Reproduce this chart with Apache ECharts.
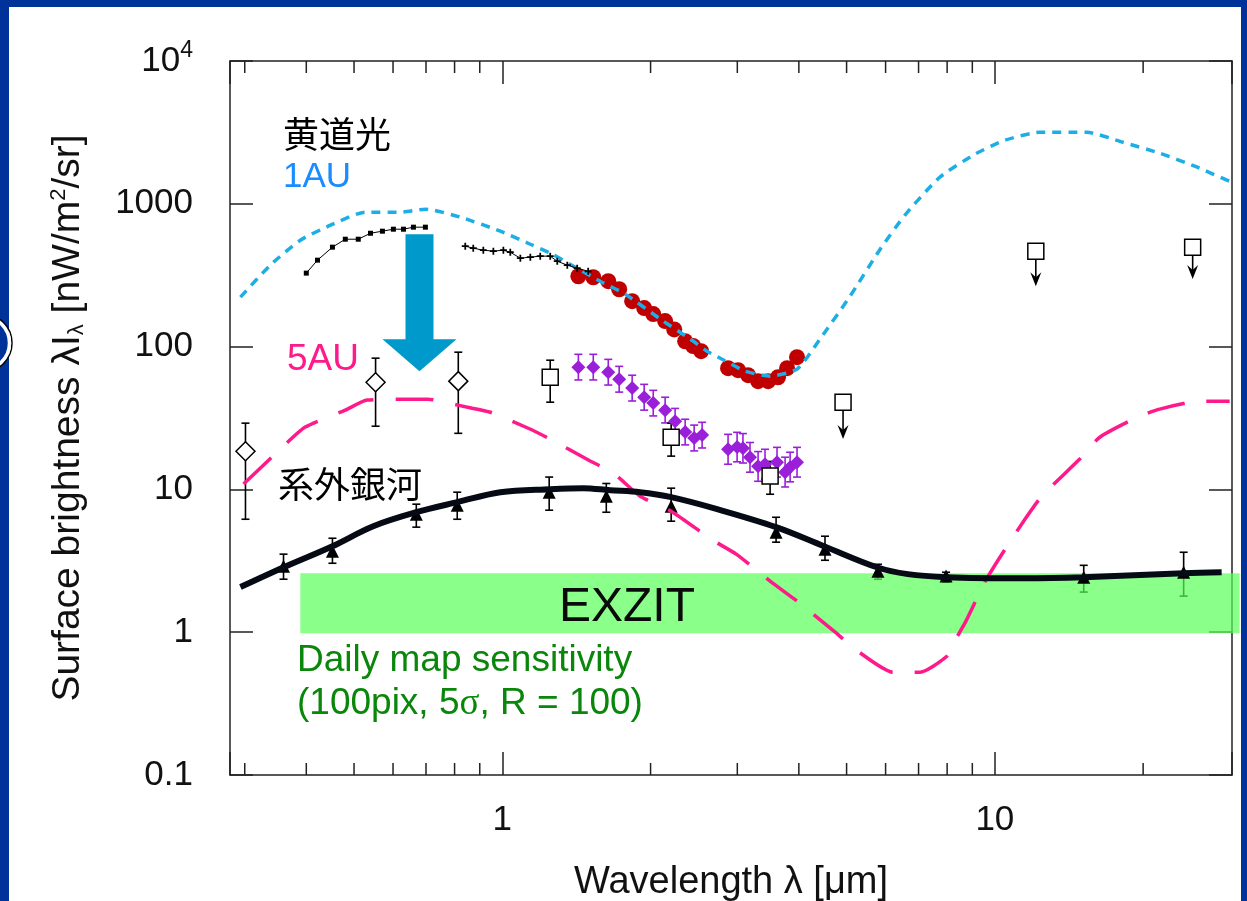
<!DOCTYPE html>
<html>
<head>
<meta charset="utf-8">
<title>Surface brightness</title>
<script src="https://cdn.jsdelivr.net/npm/echarts@6.0.0/dist/echarts.min.js"></script>
<style>
html,body{margin:0;padding:0;background:#fff;}
#main{width:1247px;height:901px;}
</style>
</head>
<body>
<div id="main"></div>
<script>
// axis range
var X_MIN = 0.28, X_MAX = 30.3;
var Y_MIN = 0.1, Y_MAX = 10000;
var xMinorTicks = [0.3, 0.4, 0.5, 0.6, 0.7, 0.8, 0.9, 2, 3, 4, 5, 6, 7, 8, 9, 20];

// 黄道光 1AU model (blue dotted)
var zl1auX = [0.294,0.338,0.389,0.448,0.527,0.621,0.698,0.822,0.991,1.140,1.263,1.406,1.580,1.776,2.092,2.406,2.605,2.795,3.111,3.497,3.966,4.416,5.08,5.85,6.57,7.73,9.11,10.48,12.34,15.37,18.18,21.61,25.45,30.25];
var zl1auY = [222,372,556,708,874,874,917,806,643,521,444,360,287,233,156,113,92.9,81.6,67.3,62.1,69.5,113,225,481,834,1535,2224,2787,3170,3170,2700,2261,1833,1416];

// 5AU model (pink dashed)
var zl5auX = [0.2983,0.358,0.398,0.480,0.532,0.642,0.705,0.849,0.946,1.129,1.251,1.508,1.672,1.905,2.202,2.654,2.984,3.563,3.966,4.74,5.27,6.21,7.05,7.99,8.26,8.73,9.54,10.24,11.51,12.45,14.87,16.33,19.50,21.61,26.05,29.97];
var zl5auY = [10.9,19.8,27.3,35.9,42.2,42.8,42.8,37.6,34.7,26.8,22.5,15.8,13.2,8.96,7.03,4.48,3.52,2.17,1.65,1.0,0.736,0.525,0.525,0.679,0.851,1.19,2.24,3.35,6.18,8.96,16.3,23.2,32.1,36.5,41.5,41.5];

// zodiacal light measurements (small squares / crosses)
var zlSqX = [0.400,0.4215,0.452,0.480,0.510,0.540,0.571,0.601,0.630,0.660,0.698];
var zlSqY = [327,403,497,565,565,622,643,664,664,686,686];
var zlCrX = [0.841,0.873,0.915,0.959,1.005,1.038,1.088,1.140,1.194,1.251,1.293,1.355,1.419,1.494];
var zlCrY = [505,489,473,466,473,458,416,423,430,430,396,372,354,337];

// red circles
var redX = [1.427,1.530,1.641,1.727,1.835,1.941,2.025,2.141,2.234,2.351,2.440,2.533,2.873,3.011,3.155,3.306,3.464,3.629,3.786,3.966];
var redY = [311,306,287,252,208,186,169,151,132,109,101,92.9,70.6,68.4,63.1,57.3,57.3,61.0,70.6,84.3];

// purple diamonds with error bars
var purX  = [1.427,1.530,1.641,1.727,1.835,1.941,2.025,2.141,2.243,2.351,2.452,2.545,2.873,2.997,3.080,3.183,3.306,3.415,3.612,3.751,3.840,3.966];
var purY  = [71.8,71.8,66.2,59.1,51.2,44.2,40.2,35.9,30.0,25.2,22.9,24.0,19.1,19.8,19.4,16.8,14.5,15.0,15.5,13.2,14.3,15.5];
var purHi = [88.3,88.3,81.4,72.7,63.0,54.4,49.4,44.2,36.9,31.0,28.2,29.5,24.3,25.1,24.6,21.3,18.4,19.1,19.7,16.8,18.2,19.7];
var purLo = [58.4,58.4,53.8,48.0,41.6,35.9,32.7,29.2,24.4,20.5,18.6,19.5,15.0,15.6,15.3,13.2,11.4,11.8,12.2,10.4,11.3,12.2];

// open diamonds
var diaX  = [0.301,0.553,0.814];
var diaY  = [18.5,56.3,57.3];
var diaHi = [29.1,83.0,91.4];
var diaLo = [6.18,27.7,24.7];

// open squares
var sqX  = [1.251,2.202,3.497];
var sqY  = [61.0,23.2,12.4];
var sqHi = [80.3,29.1,15.7];
var sqLo = [40.8,17.1,9.25];

// upper limits
var ulX   = [4.918,12.11,25.21];
var ulY   = [40.8,466,497];
var ulTip = [22.5,265,297];

// 系外銀河 model (thick black)
var eblX = [0.294,0.360,0.452,0.547,0.669,0.810,0.991,1.251,1.460,1.656,1.905,2.202,2.730,3.596,4.50,5.76,6.66,7.96,11.40,15.15,24.17,28.87];
var eblY = [2.07,2.85,4.00,5.52,6.92,8.14,9.56,10.03,10.2,9.87,9.56,8.82,7.27,5.44,4.00,2.85,2.55,2.43,2.39,2.43,2.59,2.63];

// galaxy counts (triangles)
var triX  = [0.3596,0.452,0.669,0.810,1.245,1.626,2.202,3.596,4.52,5.79,7.96,15.15,24.17];
var triY  = [2.90,3.69,6.70,7.75,9.56,8.96,7.63,5.01,3.81,2.67,2.47,2.43,2.63];
var triHi = [3.52,4.55,7.88,9.56,12.2,11.0,10.2,6.38,4.70,2.99,2.63,2.94,3.63];
var triLo = [2.35,3.04,5.44,6.18,7.15,6.92,5.99,4.27,3.19,2.35,2.24,1.91,1.79];

// EXZIT band [x0, x1, y0, y1] and 5AU arrow [x, yTop, yTip]
var bandBox = [0.389, 31.4, 0.985, 2.59];
var arrowBox = [0.679, 612, 67.3];

var FONT = '"Liberation Sans", Arial, sans-serif';
var CJK = '"Noto Sans CJK JP", sans-serif';

function pairs(xs, ys){
    var out = [];
    for(var i=0;i<xs.length;i++){
        out.push([xs[i], ys[i]]);
    }
    return out;
}
function triples(xs, a, b){
    var out = [];
    for(var i=0;i<xs.length;i++){
        out.push([xs[i], a[i], b[i]]);
    }
    return out;
}

function renderErrBar(params, api){
    var x = api.value(0);
    var lo = api.coord([x, api.value(1)]);
    var hi = api.coord([x, api.value(2)]);
    var c = api.visual('color');
    var cap = 4;
    var st = {stroke: c, lineWidth: 1.6};
    return {
        type: 'group',
        children: [
            {type:'line', shape:{x1:lo[0], y1:lo[1], x2:hi[0], y2:hi[1]}, style: st},
            {type:'line', shape:{x1:lo[0]-cap, y1:lo[1], x2:lo[0]+cap, y2:lo[1]}, style: st},
            {type:'line', shape:{x1:hi[0]-cap, y1:hi[1], x2:hi[0]+cap, y2:hi[1]}, style: st}
        ]
    };
}

function renderUpperLimit(params, api){
    var x = api.value(0);
    var p = api.coord([x, api.value(1)]);
    var t = api.coord([x, api.value(2)]);
    return {
        type: 'group',
        children: [
            {type:'line', shape:{x1:p[0], y1:p[1], x2:t[0], y2:t[1]-5}, style:{stroke:'#000', lineWidth:1.6}},
            {type:'polygon', shape:{points:[[t[0]-5.5,t[1]-14],[t[0],t[1]-9],[t[0]+5.5,t[1]-14],[t[0],t[1]]]}, style:{fill:'#000'}}
        ]
    };
}

function renderBand(params, api){
    var p0 = api.coord([api.value(0), api.value(3)]);
    var p1 = api.coord([api.value(1), api.value(2)]);
    return {
        type: 'rect',
        shape: {x:p0[0], y:p0[1], width:p1[0]-p0[0], height:p1[1]-p0[1]},
        style: {fill:'rgba(88,255,88,0.7)'}
    };
}

function renderArrow(params, api){
    var x = api.value(0);
    var top = api.coord([x, api.value(1)]);
    var tip = api.coord([x, api.value(2)]);
    var sw = 14, hw = 37, hl = 32;
    var hy = tip[1] - hl;
    return {
        type: 'polygon',
        shape: {points: [
            [top[0]-sw, top[1]], [top[0]+sw, top[1]], [top[0]+sw, hy],
            [tip[0]+hw, hy], [tip[0], tip[1]], [tip[0]-hw, hy], [top[0]-sw, hy]
        ]},
        style: {fill:'#0099cc'}
    };
}

function renderMinorTick(params, api){
    var v = api.value(0);
    var b = api.coord([v, Y_MIN]);
    var t = api.coord([v, Y_MAX]);
    var len = 12;
    var st = {stroke:'#222', lineWidth:1.5};
    return {
        type: 'group',
        children: [
            {type:'line', shape:{x1:b[0], y1:b[1], x2:b[0], y2:b[1]-len}, style: st},
            {type:'line', shape:{x1:t[0], y1:t[1], x2:t[0], y2:t[1]+len}, style: st}
        ]
    };
}

function isDecade(v){
    var l = Math.log(v)/Math.LN10;
    return Math.abs(l - Math.round(l)) < 1e-6;
}

var axisLineStyle = {color:'#222', width:1.5};

var option = {
    backgroundColor: '#fff',
    animation: false,
    grid: {left:230, right:15, top:61, bottom:126, outerBoundsMode:'none', containLabel:false},
    xAxis: [
        {
            type: 'log', logBase: 10, min: X_MIN, max: X_MAX, position: 'bottom',
            axisLine: {lineStyle: axisLineStyle},
            axisTick: {inside: true, length: 23, lineStyle: axisLineStyle},
            splitLine: {show: false},
            axisLabel: {
                fontSize: 35, fontFamily: FONT, color: '#111', margin: 28,
                formatter: function(v){
                    if(!isDecade(v)) return '';
                    return String(Math.round(v));
                }
            },
            name: 'Wavelength λ [μm]', nameLocation: 'middle', nameGap: 89,
            nameTextStyle: {fontSize: 38, fontFamily: FONT, color: '#111', verticalAlign: 'top'}
        },
        {
            type: 'log', logBase: 10, min: X_MIN, max: X_MAX, position: 'top',
            axisLine: {lineStyle: axisLineStyle},
            axisTick: {inside: true, length: 23, lineStyle: axisLineStyle},
            splitLine: {show: false},
            axisLabel: {show: false}
        }
    ],
    yAxis: [
        {
            type: 'log', logBase: 10, min: Y_MIN, max: Y_MAX, position: 'left',
            axisLine: {lineStyle: axisLineStyle},
            axisTick: {inside: true, length: 23, lineStyle: axisLineStyle},
            splitLine: {show: false},
            axisLabel: {
                fontSize: 35, fontFamily: FONT, color: '#111', margin: 37,
                formatter: function(v){
                    var l = Math.round(Math.log(v)/Math.LN10);
                    if(l >= 4) return '10{sup|' + l + '}';
                    if(l < 0) return '0.1';
                    return String(Math.round(v));
                },
                rich: {
                    sup: {fontSize: 23, fontFamily: FONT, color: '#111', verticalAlign: 'top', padding: [0, 0, 20, 0]}
                }
            },
            name: 'Surface brightness λI{sub|λ} [nW/m{sup|2}/sr]',
            nameLocation: 'middle', nameGap: 142,
            nameTextStyle: {
                fontSize: 39, fontFamily: FONT, color: '#111',
                rich: {
                    sub: {fontSize: 22, fontFamily: FONT, color: '#111', verticalAlign: 'bottom', padding: [16, 0, 0, 0]},
                    sup: {fontSize: 22, fontFamily: FONT, color: '#111', verticalAlign: 'top', padding: [0, 0, 18, 0]}
                }
            }
        },
        {
            type: 'log', logBase: 10, min: Y_MIN, max: Y_MAX, position: 'right',
            axisLine: {lineStyle: axisLineStyle},
            axisTick: {inside: true, length: 23, lineStyle: axisLineStyle},
            splitLine: {show: false},
            axisLabel: {show: false}
        }
    ],
    series: [
        {
            name: 'minorTicks', type: 'custom', renderItem: renderMinorTick,
            data: xMinorTicks.map(function(v){ return [v]; }), encode: {x: 0}, silent: true
        },
        {
            name: '5AU', type: 'line', data: pairs(zl5auX, zl5auY), smooth: 0.2,
            symbol: 'none', lineStyle: {color: '#ff1a8c', width: 3.5, type: [38, 22]}
        },
        {
            name: '1AU', type: 'line', data: pairs(zl1auX, zl1auY), smooth: 0.2,
            symbol: 'none', lineStyle: {color: '#1eaee6', width: 3.5, type: [9, 7]}
        },
        {
            name: 'zlSquares', type: 'line', data: pairs(zlSqX, zlSqY),
            symbol: 'rect', symbolSize: 5, itemStyle: {color: '#000', opacity: 1},
            lineStyle: {color: '#000', width: 1}
        },
        {
            name: 'zlCrosses', type: 'line', data: pairs(zlCrX, zlCrY),
            symbol: 'path://M0,3h8v2h-8z M3,0h2v8h-2z', symbolSize: 7, itemStyle: {color: '#000', opacity: 1},
            lineStyle: {color: '#000', width: 1}
        },
        {
            name: 'red', type: 'scatter', data: pairs(redX, redY),
            symbol: 'circle', symbolSize: 16, itemStyle: {color: '#c00000', opacity: 1}
        },
        {
            name: 'purpleErr', type: 'custom', renderItem: renderErrBar,
            data: triples(purX, purLo, purHi), encode: {x: 0, y: [1, 2]}, itemStyle: {color: '#9a1fd8'}
        },
        {
            name: 'purple', type: 'scatter', data: pairs(purX, purY),
            symbol: 'diamond', symbolSize: 14, itemStyle: {color: '#9a1fd8', opacity: 1}
        },
        {
            name: 'diaErr', type: 'custom', renderItem: renderErrBar,
            data: triples(diaX, diaLo, diaHi), encode: {x: 0, y: [1, 2]}, itemStyle: {color: '#000'}
        },
        {
            name: 'diamonds', type: 'scatter', data: pairs(diaX, diaY),
            symbol: 'diamond', symbolSize: 19,
            itemStyle: {color: '#fff', borderColor: '#000', borderWidth: 1.5, opacity: 1}
        },
        {
            name: 'sqErr', type: 'custom', renderItem: renderErrBar,
            data: triples(sqX, sqLo, sqHi), encode: {x: 0, y: [1, 2]}, itemStyle: {color: '#000'}
        },
        {
            name: 'upperLimits', type: 'custom', renderItem: renderUpperLimit,
            data: triples(ulX, ulY, ulTip), encode: {x: 0, y: [1, 2]}
        },
        {
            name: 'squares', type: 'scatter', data: pairs(sqX, sqY).concat(pairs(ulX, ulY)),
            symbol: 'rect', symbolSize: 16,
            itemStyle: {color: '#fff', borderColor: '#000', borderWidth: 1.5, opacity: 1}
        },
        {
            name: 'triErr', type: 'custom', renderItem: renderErrBar,
            data: triples(triX, triLo, triHi), encode: {x: 0, y: [1, 2]}, itemStyle: {color: '#000'}
        },
        {
            name: 'triangles', type: 'scatter', data: pairs(triX, triY),
            symbol: 'triangle', symbolSize: 13, itemStyle: {color: '#000', opacity: 1}
        },
        {
            name: '系外銀河', type: 'line', data: pairs(eblX, eblY), smooth: 0.35,
            symbol: 'none', lineStyle: {color: '#050a14', width: 6}
        },
        {
            name: 'EXZIT', type: 'custom', renderItem: renderBand, clip: false,
            data: [bandBox], encode: {x: [0, 1], y: [2, 3]}, silent: true
        },
        {
            name: 'arrow', type: 'custom', renderItem: renderArrow,
            data: [arrowBox], encode: {x: 0, y: [1, 2]}, silent: true
        }
    ],
    graphic: [
        {type:'rect', z:100, shape:{x:0, y:0, width:9, height:901}, style:{fill:'#003399'}},
        {type:'rect', z:100, shape:{x:0, y:0, width:1247, height:7}, style:{fill:'#003399'}},
        {type:'rect', z:100, shape:{x:1241, y:0, width:6, height:901}, style:{fill:'#003399'}},
        {type:'circle', z:101, shape:{cx:-17, cy:343, r:29}, style:{fill:'none', stroke:'#000', lineWidth:1.5}},
        {type:'circle', z:101, shape:{cx:-17, cy:343, r:26.5}, style:{fill:'#003399', stroke:'#fff', lineWidth:3.5}},
        {type:'text', z:50, style:{x:283, y:134, text:'黄道光', font:'36px ' + CJK, fill:'#000', verticalAlign:'middle'}},
        {type:'text', z:50, style:{x:283, y:177, text:'1AU', font:'35px ' + FONT, fill:'#1a8cff', verticalAlign:'middle'}},
        {type:'text', z:50, style:{x:287, y:360, text:'5AU', font:'37px ' + FONT, fill:'#ff1a8c', verticalAlign:'middle'}},
        {type:'text', z:50, style:{x:278, y:484, text:'系外銀河', font:'36px ' + CJK, fill:'#000', verticalAlign:'middle'}},
        {type:'text', z:50, style:{x:627, y:608, text:'EXZIT', font:'48px ' + FONT, fill:'#0a0a0a', align:'center', verticalAlign:'middle'}},
        {type:'text', z:50, style:{x:297, y:661, text:'Daily map sensitivity', font:'37px ' + FONT, fill:'#0a860a', verticalAlign:'middle'}},
        {type:'text', z:50, style:{x:297, y:704, text:'(100pix, 5{s|σ}, R = 100)', font:'37px ' + FONT, fill:'#0a860a', verticalAlign:'middle',
            rich:{s:{fontFamily:'"Liberation Serif", serif', fontSize:37, fill:'#0a860a'}}}}
    ]
};

var chart = echarts.init(document.getElementById('main'), null, {renderer: 'canvas'});
chart.setOption(option);
</script>
</body>
</html>
